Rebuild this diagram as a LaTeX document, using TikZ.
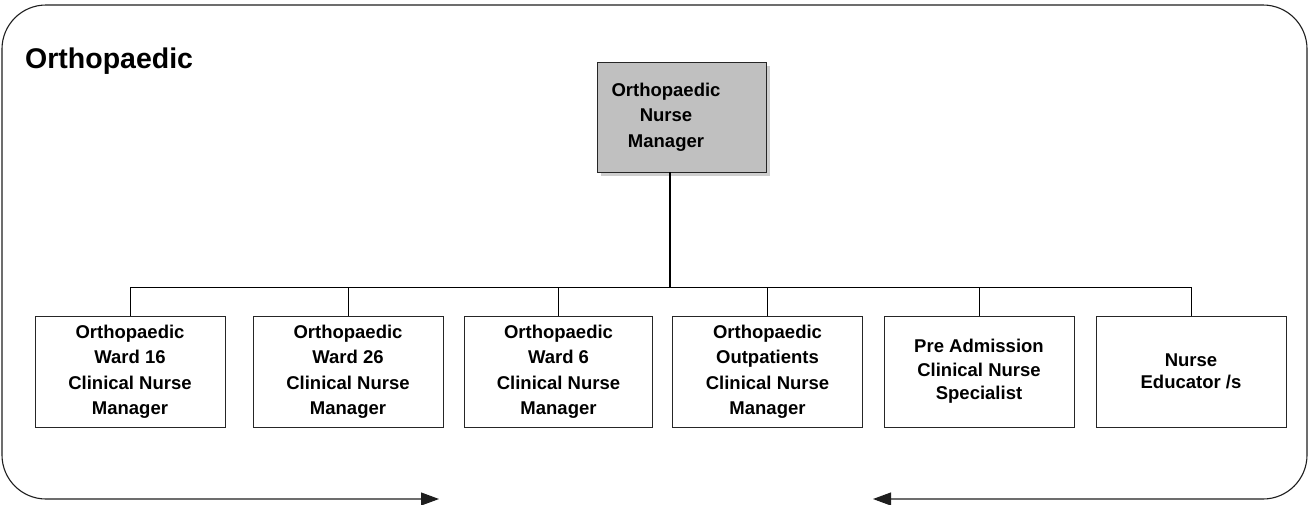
\documentclass[tikz,border=0pt]{standalone}
\usepackage{fontspec}
\setmainfont{Liberation Sans}
\usetikzlibrary{arrows.meta,shadows}
\definecolor{mgrfill}{RGB}{192,192,192}
\definecolor{shadowgray}{RGB}{206,206,206}
\definecolor{framegray}{RGB}{30,30,30}
\begin{document}
\begin{tikzpicture}[x=1pt,y=-1pt,
  boxtext/.style={font=\fontsize{18.5}{25.5}\selectfont\bfseries, align=center},
  unitbox/.style={boxtext, draw=black!85, line width=0.9pt, fill=white,
    minimum width=190pt, minimum height=111pt, inner sep=0pt},
  mgrbox/.style={draw=black!85, line width=0.9pt, fill=mgrfill,
    minimum width=169pt, minimum height=110pt, inner sep=0pt,
    drop shadow={shadow xshift=4pt, shadow yshift=-4pt, fill=shadowgray, opacity=1}},
  frame/.style={draw=framegray, line width=1.1pt, rounded corners=44pt},
  link/.style={draw=black, line width=0.9pt},
  stem/.style={draw=black, line width=2.2pt},
]
\useasboundingbox (0,0) rectangle (1314,504);

% outer frame, open at the bottom with arrows pointing into the gap
\draw[frame, {Triangle[length=18pt,width=13pt]}-{Triangle[length=18pt,width=13pt]}]
  (873,499) -- (1307,499) -- (1307,5) -- (2,5) -- (2,499) -- (439,499);

% heading
\node[font=\fontsize{28.5}{34}\selectfont\bfseries, anchor=base west, inner sep=0pt]
  (title) at (25,68) {Orthopaedic};

% manager
\node[mgrbox] (mgr) at (681.5,117) {};
\node[boxtext] (mgrtext) at (666,117) {Orthopaedic\\Nurse\\Manager};

% units
\node[unitbox] (c1) at (130,371.5) {Orthopaedic\\Ward 16\\Clinical Nurse\\Manager};
\node[unitbox] (c2) at (348,371.5) {Orthopaedic\\Ward 26\\Clinical Nurse\\Manager};
\node[unitbox, minimum width=188pt] (c3) at (558.5,371.5) {Orthopaedic\\Ward 6\\Clinical Nurse\\Manager};
\node[unitbox] (c4) at (767.5,371.5) {Orthopaedic\\Outpatients\\Clinical Nurse\\Manager};
\node[unitbox, font=\fontsize{18.5}{23.5}\selectfont\bfseries] (c5) at (979,371.5) {Pre Admission\\Clinical Nurse\\Specialist};
\node[unitbox, font=\fontsize{18.5}{22.5}\selectfont\bfseries] (c6) at (1191,371.5) {Nurse\\Educator /s};

% connectors
\coordinate (bus) at (670,287.5);
\draw[stem] (mgr.south -| bus) -- (bus);
\draw[link] (c1.north) -- (c1.north |- bus) -- (c6.north |- bus) -- (c6.north);
\foreach \i in {2,...,5}
  \draw[link] (c\i.north) -- (c\i.north |- bus);
\end{tikzpicture}
\end{document}
